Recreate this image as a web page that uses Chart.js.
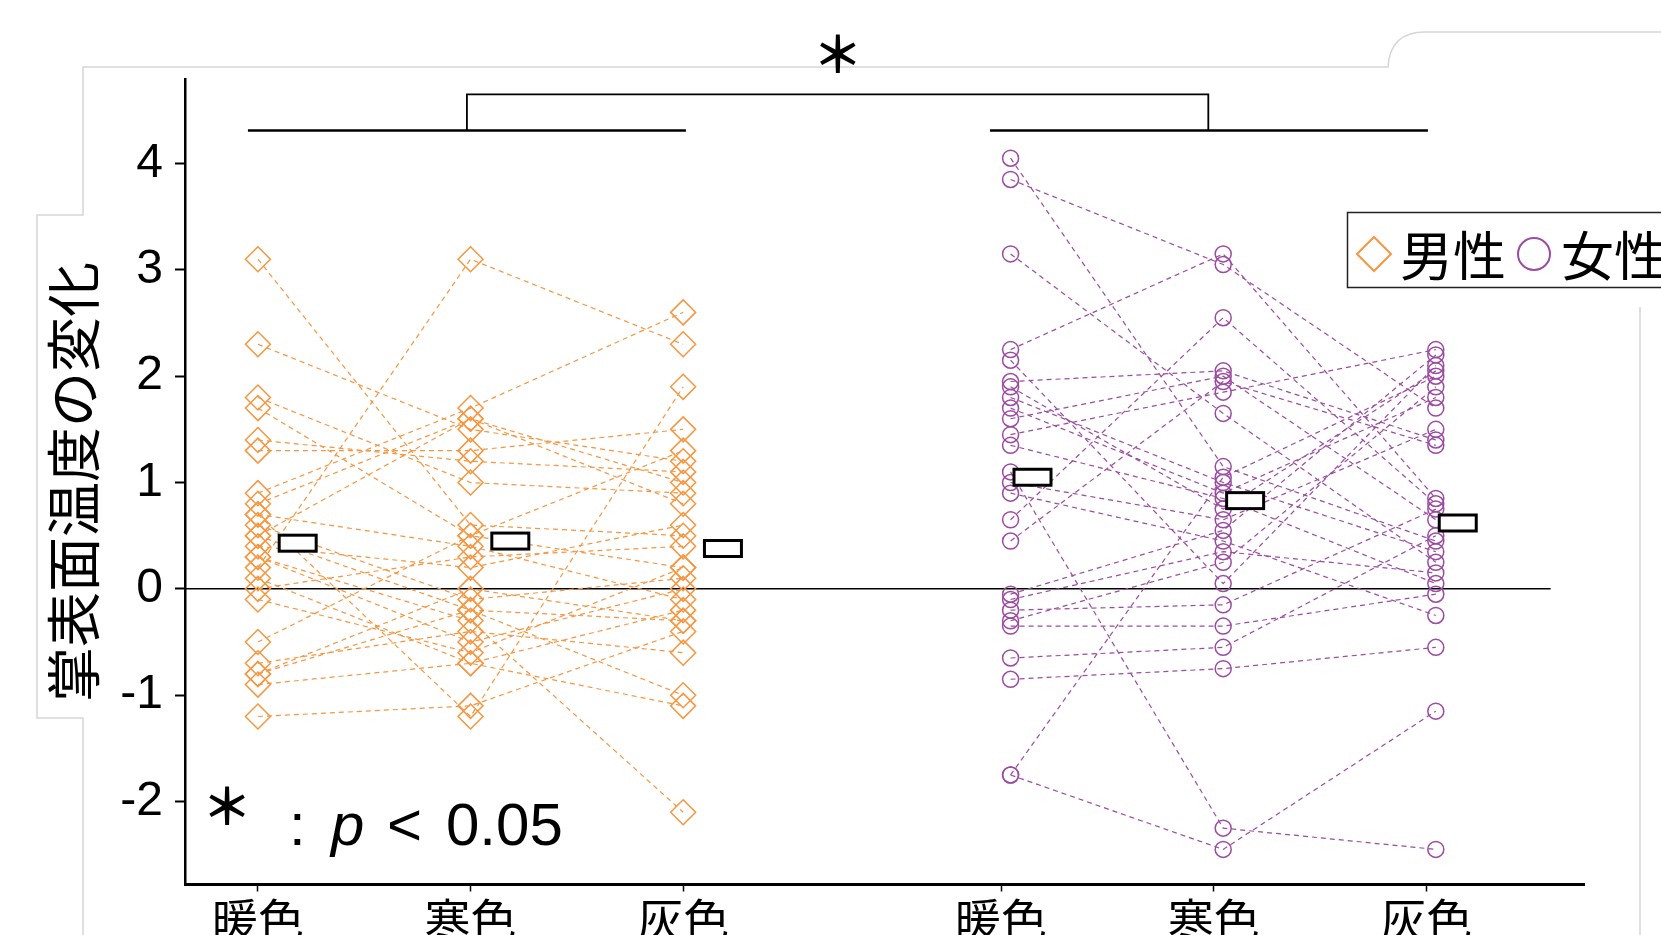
<!DOCTYPE html>
<html lang="ja">
<head>
<meta charset="utf-8">
<title>掌表面温度の変化</title>
<script src="https://cdn.jsdelivr.net/npm/chart.js@4.4.1/dist/chart.umd.min.js"></script>
<style>
  html, body { margin: 0; padding: 0; background: #fff; }
  #wrap { position: relative; width: 1661px; height: 935px; }
</style>
</head>
<body>
<div id="wrap"><canvas id="chart"></canvas></div>
<script>
// 条件ラベル
const conditions = ['暖色', '寒色', '灰色'];
// x位置 (男性 / 女性)
const menX = [1, 2, 3];
const womenX = [4.54, 5.54, 6.54];
// x軸目盛の位置 (女性側は少し左にずれている)
const xTickPos = [1, 2, 3, 4.495, 5.495, 6.495];
// y軸目盛
const yTicks = [4, 3, 2, 1, 0, -1, -2];

// 男性: 被験者ごとの変化 (暖色, 寒色, 灰色)
const menWarm = [3.1, 2.3, 0.2, 1.8, 1.7, 1.4, 1.3, 0.9, 0.8, 0.7, 0.7, 0.6, 0.5, 0.5, 0.4, 0.3, 0.3, 0.1, 0.0, -0.1, -0.5, -0.7, -0.8, -0.8, -0.9, -1.2];
const menCold = [0.6, 1.5, 3.1, 1.0, 0.5, 1.2, 1.3, 1.7, 1.6, -1.2, 0.4, -0.1, 1.6, -0.2, 0.2, -0.3, -0.5, -0.7, 0.3, -0.6, 0.5, -0.4, -0.2, 0.0, -0.7, -1.1];
const menGray = [0.5, 1.2, 2.3, 0.9, 0.2, 1.1, 1.5, 2.6, 1.0, 1.9, -0.1, 0.1, 0.8, -0.3, 0.6, -2.1, 0.0, -0.2, 0.4, 0.2, 1.3, -0.6, -1.0, -0.3, -1.1, -0.4];

// 女性: 被験者ごとの変化 (暖色, 寒色, 灰色)
const womenWarm = [4.05, 3.85, 3.15, 2.25, 2.15, 1.95, 1.9, 1.8, 1.7, 1.6, 1.45, 1.35, 1.1, 1.0, 0.9, 0.65, 0.45, -0.05, -0.1, -0.2, -0.3, -0.35, -0.65, -0.85, -1.75, -1.75];
const womenCold = [1.15, 3.05, 1.65, 3.15, 0.05, 2.05, 0.75, 1.0, 0.9, 2.0, 1.85, 0.85, -2.25, 0.65, 0.45, 2.55, 1.95, 0.55, 0.35, -0.15, 0.25, -0.35, -0.55, -0.75, 1.05, -2.45];
const womenGray = [0.45, 1.7, 0.25, 0.85, 2.1, 1.4, 2.05, 0.35, 1.8, 0.65, 2.25, 0.05, -2.45, 1.5, -0.25, 0.8, 1.35, 2.2, 0.15, 0.75, 1.9, -0.05, 0.5, -0.55, 2.0, -1.15];

// 平均値
const menMean = [0.43, 0.45, 0.38];
const womenMean = [1.05, 0.83, 0.62];

// 色
const menColor = '#F7963F';
const womenColor = '#9C4AA2';

// 平均値マーカー (白い長方形)
const boxImg = document.createElement('canvas');
boxImg.width = 44;
boxImg.height = 23;
const bctx = boxImg.getContext('2d');
bctx.fillStyle = '#fff';
bctx.fillRect(2, 2, 40, 19);
bctx.strokeStyle = '#000';
bctx.lineWidth = 3;
bctx.strokeRect(3.5, 3.5, 37, 16);

// 被験者ごとの折れ線
function subjectSets(warm, cold, gray, xs, color, style, radius) {
    return warm.map((w, i) => ({
        data: [w, cold[i], gray[i]].map((v, j) => ({ x: xs[j], y: v })),
        showLine: true,
        borderColor: color,
        borderWidth: 1.2,
        borderDash: [5, 4],
        pointStyle: style,
        pointRadius: radius,
        pointBorderColor: color,
        pointBorderWidth: 1.5,
        pointBackgroundColor: 'rgba(0,0,0,0)',
        order: 2
    }));
}

function segment(points, width) {
    return {
        data: points,
        showLine: true,
        borderColor: '#000',
        borderWidth: width,
        pointRadius: 0,
        order: 1
    };
}

const datasets = [
    ...subjectSets(menWarm, menCold, menGray, menX, menColor, 'rectRot', 12.5),
    ...subjectSets(womenWarm, womenCold, womenGray, womenX, womenColor, 'circle', 8),
    // 平均値
    {
        data: menMean.map((v, i) => ({ x: menX[i] + 0.187, y: v }))
            .concat(womenMean.map((v, i) => ({ x: womenX[i] + 0.103, y: v }))),
        pointStyle: boxImg,
        showLine: false,
        order: -1
    },
    // y=0 の線
    { ...segment([{ x: 0.657, y: 0 }, { x: 7.08, y: 0 }], 1.5), order: 3 },
    // 有意差の括弧
    segment([{ x: 0.953, y: 4.31 }, { x: 3.013, y: 4.31 }], 2.5),
    segment([{ x: 4.443, y: 4.31 }, { x: 6.503, y: 4.31 }], 2.5),
    segment([{ x: 1.983, y: 4.31 }, { x: 1.983, y: 4.65 }, { x: 5.47, y: 4.65 }, { x: 5.47, y: 4.31 }], 1.8)
];

// 背景の枠線 (元画像の切り抜き跡)
const framePlugin = {
    id: 'frame',
    beforeDraw(chart) {
        const ctx = chart.ctx;
        ctx.save();
        ctx.strokeStyle = '#d6d6d6';
        ctx.lineWidth = 1.5;
        ctx.beginPath();
        ctx.moveTo(83, 935);
        ctx.lineTo(83, 718);
        ctx.lineTo(37, 718);
        ctx.lineTo(37, 215);
        ctx.lineTo(83, 215);
        ctx.lineTo(83, 67);
        ctx.lineTo(1388, 67);
        ctx.quadraticCurveTo(1390, 32, 1425, 32);
        ctx.lineTo(1661, 32);
        ctx.moveTo(1640, 307);
        ctx.lineTo(1640, 935);
        ctx.stroke();
        ctx.restore();
    }
};

// 注記と凡例
const notePlugin = {
    id: 'notes',
    afterDraw(chart) {
        const ctx = chart.ctx;
        const xs = chart.scales.x;
        ctx.save();
        ctx.fillStyle = '#000';
        ctx.textAlign = 'center';
        ctx.textBaseline = 'middle';
        ctx.font = 'bold 50px "Noto Sans CJK JP"';
        ctx.fillText('＊', xs.getPixelForValue(3.727), 54);
        ctx.fillText('＊', 227, 806);

        ctx.textAlign = 'left';
        ctx.textBaseline = 'alphabetic';
        ctx.font = '60px "Liberation Sans"';
        ctx.fillText(':', 289, 845);
        ctx.fillText('<', 387, 845);
        ctx.fillText('0.05', 446, 845);
        ctx.font = 'italic 60px "Liberation Sans"';
        ctx.fillText('p', 331, 845);

        // 凡例
        ctx.strokeStyle = '#222';
        ctx.lineWidth = 1.5;
        ctx.strokeRect(1347.5, 212.5, 330, 75);
        ctx.lineWidth = 2;
        ctx.strokeStyle = menColor;
        ctx.beginPath();
        ctx.moveTo(1374, 237);
        ctx.lineTo(1391, 254);
        ctx.lineTo(1374, 271);
        ctx.lineTo(1357, 254);
        ctx.closePath();
        ctx.stroke();
        ctx.strokeStyle = womenColor;
        ctx.beginPath();
        ctx.arc(1534, 254, 16, 0, Math.PI * 2);
        ctx.stroke();
        ctx.font = '53px "Noto Sans CJK JP"';
        ctx.textBaseline = 'middle';
        ctx.fillText('男性', 1400, 256);
        ctx.fillText('女性', 1561, 256);
        ctx.restore();
    }
};

new Chart(document.getElementById('chart'), {
    type: 'scatter',
    data: { datasets },
    options: {
        responsive: true,
        maintainAspectRatio: false,
        animation: false,
        layout: { padding: { left: 0, top: 79.5, right: 77, bottom: 0 } },
        plugins: {
            legend: { display: false },
            tooltip: { enabled: false }
        },
        scales: {
            x: {
                type: 'linear',
                min: 0.657,
                max: 7.237,
                afterBuildTicks: axis => {
                    axis.ticks = xTickPos.map(v => ({ value: v }));
                },
                afterFit: axis => { axis.height = 50.5; },
                ticks: {
                    autoSkip: false,
                    maxRotation: 0,
                    padding: 0,
                    color: '#000',
                    font: { family: '"Noto Sans CJK JP"', size: 46 },
                    callback: (v, i) => conditions[i % 3]
                },
                grid: { drawOnChartArea: false, drawTicks: true, tickLength: 7, tickColor: '#000', tickWidth: 1.5 },
                border: { color: '#000', width: 3 }
            },
            y: {
                min: -2.78,
                max: 4.79,
                afterBuildTicks: axis => {
                    axis.ticks = yTicks.map(v => ({ value: v }));
                },
                afterFit: axis => { axis.width = 185; },
                ticks: {
                    padding: 12,
                    color: '#000',
                    font: { family: '"Liberation Sans"', size: 48 }
                },
                grid: { drawOnChartArea: false, drawTicks: true, tickLength: 10, tickColor: '#000', tickWidth: 2 },
                border: { color: '#000', width: 2.5 },
                title: {
                    display: true,
                    text: '掌表面温度の変化',
                    color: '#000',
                    font: { family: '"Noto Sans CJK JP"', size: 55 },
                    padding: { top: 40, bottom: 0 }
                }
            }
        }
    },
    plugins: [framePlugin, notePlugin]
});
</script>
</body>
</html>
